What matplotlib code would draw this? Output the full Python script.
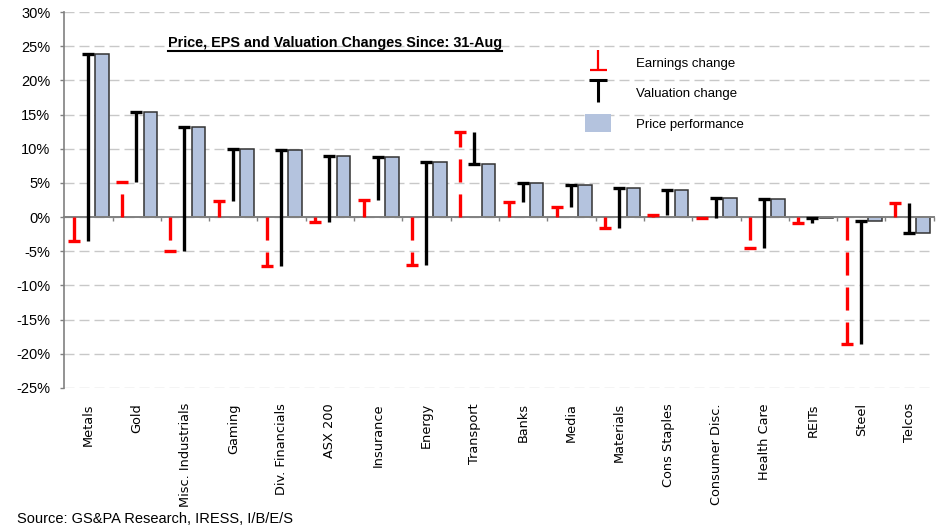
import numpy as np
import matplotlib
matplotlib.use('Agg')
from matplotlib import pyplot as plt
from matplotlib.lines import Line2D
from matplotlib.patches import Patch
from matplotlib.path import Path
from matplotlib import transforms

plt.rcParams['font.family'] = ['Liberation Sans', 'DejaVu Sans']
plt.rcParams['lines.scale_dashes'] = False

# sectors, left to right
sectors = ['Metals', 'Gold', 'Misc. Industrials', 'Gaming', 'Div. Financials',
           'ASX 200', 'Insurance', 'Energy', 'Transport', 'Banks', 'Media',
           'Materials', 'Cons Staples', 'Consumer Disc.', 'Health Care',
           'REITs', 'Steel', 'Telcos']

# earnings change (%) - red
earnings = [-3.5, 5.1, -4.9, 2.3, -7.2, -0.7, 2.5, -7.0, 12.4, 2.2, 1.5,
            -1.6, 0.3, -0.2, -4.5, -0.8, -18.5, 2.1]

# price performance (%) - bars; the black valuation line runs from earnings to price
price = [23.9, 15.4, 13.2, 9.9, 9.8, 8.9, 8.8, 8.1, 7.8, 5.0, 4.7,
         4.2, 3.9, 2.8, 2.6, -0.2, -0.6, -2.3]

legend_labels = ['Earnings change', 'Valuation change', 'Price performance']
y_ticks = np.arange(-25, 31, 5)

bar_color = '#b4c3de'
grid_color = '#c8c8c8'
axis_color = '#808080'

fig = plt.figure(figsize=(9.4, 5.27), dpi=100)
ax = fig.add_axes([0.0684, 0.2638, 0.9249, 0.7134])

x = np.arange(len(sectors))
x_red = x + 0.197
x_black = x + 0.487

# price bars
ax.bar(x + 0.64, price, width=0.28, align='edge', color=bar_color,
       edgecolor='#333333', linewidth=1.1, zorder=2)

# earnings change: dashed red line from 0 with a cap at the end
ax.vlines(x_red, 0, earnings, colors='red', linewidth=2.4,
          linestyles=[(0, (16.6, 8.6))], zorder=3)
ax.plot(x_red, earnings, ls='none', marker='_', ms=8, mew=2.4, color='red', zorder=3)

# valuation change: black line from earnings level to price, cap at price
ax.vlines(x_black, earnings, price, colors='black', linewidth=2.4, zorder=3)
ax.plot(x_black, price, ls='none', marker='_', ms=8, mew=2.4, color='black', zorder=3)

ax.set_xlim(0, len(sectors))
ax.set_ylim(-25, 30)
ax.set_yticks(y_ticks)
ax.set_yticklabels(['%d%%' % v for v in y_ticks], fontsize=10.5)
ax.tick_params(axis='y', direction='out', length=3, width=1, color=axis_color, pad=7)

ax.yaxis.grid(True, color=grid_color, linestyle=(0, (7.2, 3.6)), linewidth=1)
ax.set_axisbelow(True)

for s in ['top', 'right']:
    ax.spines[s].set_visible(False)
ax.spines['left'].set_color(axis_color)
ax.spines['left'].set_linewidth(1.2)
ax.spines['bottom'].set_position(('data', 0))
ax.spines['bottom'].set_color(axis_color)
ax.spines['bottom'].set_linewidth(1.4)
ax.spines['bottom'].set_zorder(2.5)
ax.set_xticks(x + 1)
ax.set_xticklabels([])
ax.tick_params(axis='x', direction='out', length=3, width=1, color=axis_color)

# category labels along the bottom
trans = transforms.blended_transform_factory(ax.transData, ax.transAxes)
for xi, name in zip(x, sectors):
    ax.text(xi + 0.5, -0.04, name, transform=trans, rotation=90, ha='center',
            va='top', fontsize=9.3, family='DejaVu Sans')

# title inside the plot, underlined
t = ax.text(0.119, 0.9077, 'Price, EPS and Valuation Changes Since: 31-Aug',
            transform=ax.transAxes, fontsize=10.4, fontweight='bold', va='baseline')

# legend
perp = Path([(0, 1), (0, -1), (-0.85, -1), (0.85, -1)],
            [Path.MOVETO, Path.LINETO, Path.MOVETO, Path.LINETO])
tee = Path([(0, -1), (0, 1), (-0.85, 1), (0.85, 1)],
           [Path.MOVETO, Path.LINETO, Path.MOVETO, Path.LINETO])
h1 = Line2D([], [], ls='none', marker=perp, ms=14.4, mew=1.6, mec='red', mfc='none')
h2 = Line2D([], [], ls='none', marker=tee, ms=16, mew=2.2, mec='black', mfc='none')
h3 = Patch(facecolor=bar_color, edgecolor='none')
ax.legend([h1, h2, h3], legend_labels, loc='upper left', bbox_to_anchor=(0.599, 0.889),
          frameon=False, borderpad=0, borderaxespad=0, handlelength=1.97,
          handleheight=1.74, handletextpad=1.9, labelspacing=0.92, fontsize=9.5,
          numpoints=1)

fig.text(17 / 940, 1 / 527, 'Source: GS&PA Research, IRESS, I/B/E/S',
         fontsize=10.5, va='bottom', ha='left')

fig.canvas.draw()
bb = t.get_window_extent()
W, H = fig.bbox.width, fig.bbox.height
fig.add_artist(Line2D([bb.x0 / W, bb.x1 / W], [(bb.y0 - 1) / H, (bb.y0 - 1) / H],
                      transform=fig.transFigure, color='black', linewidth=1.5))

fig.savefig('out.png', dpi=100)
